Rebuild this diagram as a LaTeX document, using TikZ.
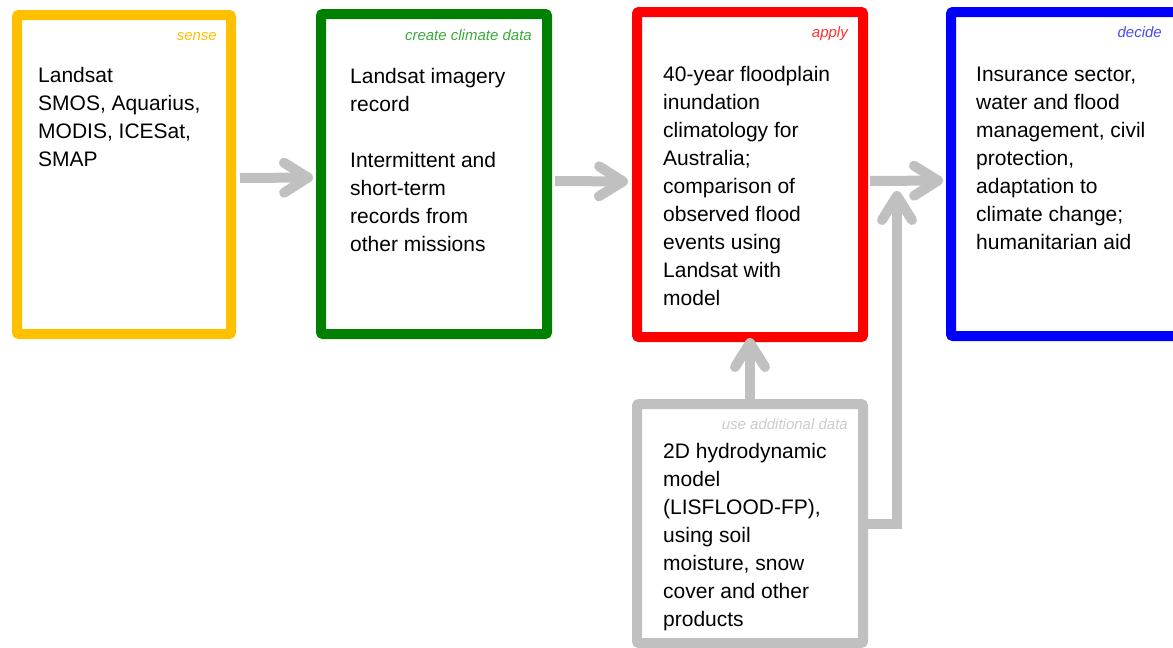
\documentclass[tikz,border=0pt]{standalone}
\usepackage{fontspec}
\setmainfont{Liberation Sans}
\usetikzlibrary{arrows.meta}
\definecolor{cyel}{HTML}{FFC000}
\definecolor{cgrn}{HTML}{008000}
\definecolor{cred}{HTML}{FF0000}
\definecolor{cblu}{HTML}{0000FF}
\definecolor{cgry}{HTML}{C0C0C0}
\definecolor{lgrn}{HTML}{3DA83D}
\definecolor{lblu}{HTML}{4A4AF0}
\definecolor{lred}{HTML}{FF3030}
\definecolor{lgry}{HTML}{CCCCCC}
\begin{document}
\begin{tikzpicture}[x=1pt,y=-1pt,
 frame/.style={draw=#1, line width=10pt, rounded corners=2pt, inner sep=0pt, fill=white},
 body/.style={anchor=north west, inner sep=0pt, align=left, font=\fontsize{21}{28}\selectfont},
 tag/.style={anchor=base east, inner sep=0pt, font=\fontsize{15}{18}\selectfont\itshape, text=#1},
 flow/.style={draw=cgry, line width=10pt, -{Straight Barb[length=24pt,width=30pt,round]}},
]
\useasboundingbox (0,0) rectangle (1173,648);
% boxes
\node[frame=cyel, minimum width=214pt, minimum height=319pt] (sense) at (124,174.5) {};
\node[frame=cgrn, minimum width=226pt, minimum height=320pt] (create) at (434,174) {};
\node[frame=cred, minimum width=226pt, minimum height=325pt] (apply) at (750,174.5) {};
\node[frame=cblu, minimum width=227pt, minimum height=324pt] (decide) at (1064.5,174) {};
\node[frame=cgry, minimum width=226pt, minimum height=239pt] (addl) at (750,523.5) {};
% connectors
\draw[flow, shorten <=4pt, shorten >=3pt] ([yshift=-3.5pt]sense.east) -- ([yshift=-3.5pt]create.west);
\draw[flow, shorten <=3pt, shorten >=4pt] ([yshift=-7pt]create.east) -- ([yshift=-7pt]apply.west);
\draw[flow, shorten <=2pt, shorten >=3pt] ([yshift=-6.5pt]apply.east) -- ([yshift=-6.5pt]decide.west);
\draw[flow, shorten >=-4pt] (addl.north) -- (apply.south);
\coordinate (m) at (897,191);
\draw[flow] (addl.east) -| (m);
% tags
\node[tag=cyel] (t1) at (217,40) {sense};
\node[tag=lgrn] (t2) at (532,40) {create climate data};
\node[tag=lred] (t3) at (848,37) {apply};
\node[tag=lblu] (t4) at (1162,37) {decide};
\node[tag=lgry] (t5) at (848,429) {use additional data};
% texts
\node[body] (x1) at (38,62.4) {\strut Landsat\\SMOS, Aquarius,\\MODIS, ICESat,\\SMAP};
\node[body] (x2) at (350,63.4) {\strut Landsat imagery\\record\\[28pt]Intermittent and\\short-term\\records from\\other missions};
\node[body] (x3) at (663,61.4) {\strut 40-year floodplain\\inundation\\climatology for\\Australia;\\comparison of\\observed flood\\events using\\Landsat with\\model};
\node[body] (x4) at (976,61.4) {\strut Insurance sector,\\water and flood\\management, civil\\protection,\\adaptation to\\climate change;\\humanitarian aid};
\node[body] (x5) at (663,438.4) {\strut 2D hydrodynamic\\model\\(LISFLOOD-FP),\\using soil\\moisture, snow\\cover and other\\products};
\end{tikzpicture}
\end{document}
